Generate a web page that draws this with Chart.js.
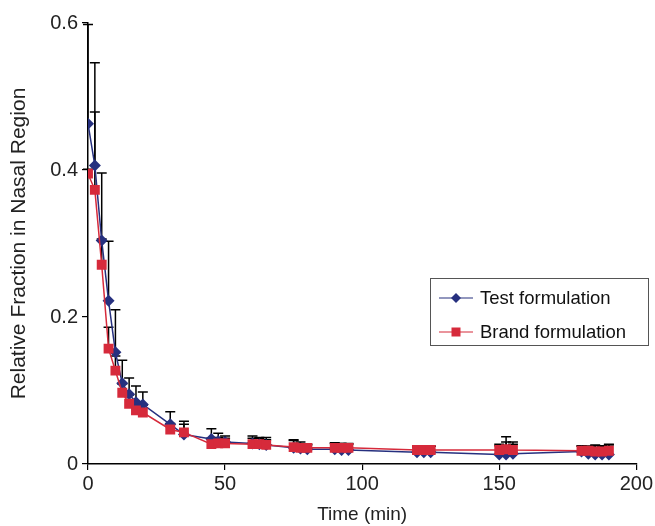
<!DOCTYPE html>
<html>
<head>
<meta charset="utf-8">
<script src="https://cdn.jsdelivr.net/npm/chart.js@4.4.0/dist/chart.umd.min.js"></script>
<style>
  html, body { margin: 0; padding: 0; background: #fff; }
  #wrap { width: 655px; height: 526px; }
</style>
</head>
<body>
<div id="wrap"><canvas id="chart" width="655" height="526"></canvas></div>
<script>
// sampling times (min)
var times = [0, 2.5, 5, 7.5, 10, 12.5, 15, 17.5, 20, 30, 35, 45, 47.5, 50, 60, 62.5, 65,
             75, 77.5, 80, 90, 92.5, 95, 120, 122.5, 125, 150, 152.5, 155, 180, 182.5, 185, 187.5, 190];

// relative fraction in nasal region
var testValues = [0.463, 0.406, 0.304, 0.222, 0.152, 0.110, 0.095, 0.084, 0.081, 0.054, 0.040,
                  0.034, 0.031, 0.030, 0.028, 0.027, 0.026, 0.022, 0.021, 0.020, 0.020, 0.019, 0.019,
                  0.016, 0.016, 0.016, 0.013, 0.013, 0.014, 0.017, 0.014, 0.013, 0.013, 0.013];
var brandValues = [0.395, 0.373, 0.271, 0.157, 0.127, 0.097, 0.082, 0.073, 0.070, 0.047, 0.043,
                   0.027, 0.028, 0.028, 0.027, 0.027, 0.026, 0.023, 0.022, 0.022, 0.022, 0.022, 0.022,
                   0.019, 0.019, 0.019, 0.019, 0.020, 0.019, 0.018, 0.018, 0.017, 0.017, 0.018];

// upper error bars (SD)
var testErr = [0.135, 0.140, 0.092, 0.081, 0.058, 0.031, 0.022, 0.022, 0.017, 0.017, 0.018,
               0.014, 0.011, 0.008, 0.010, 0.009, 0.010, 0.011, 0.006, 0.006, 0.009, 0.009, 0.008,
               0.008, 0.008, 0.008, 0.012, 0.024, 0.016, 0.008, 0.010, 0.013, 0.011, 0.014];
var brandErr = [0.006, 0.106, 0.035, 0.029, 0.020, 0.012, 0.012, 0.010, 0.010, 0.008, 0.011,
                0.008, 0.008, 0.007, 0.008, 0.008, 0.007, 0.009, 0.008, 0.005, 0.006, 0.006, 0.006,
                0.004, 0.004, 0.005, 0.008, 0.010, 0.008, 0.006, 0.006, 0.008, 0.008, 0.008];

var seriesNames = ['Test formulation', 'Brand formulation'];
var xTickLabels = ['0', '50', '100', '150', '200'];
var yTickLabels = ['0', '0.2', '0.4', '0.6'];

var FONT = 'Liberation Sans, Arial, sans-serif';
var BLUE = '#26307f';
var RED = '#d62a3b';

function points(vals) {
  return times.map(function (t, i) { return { x: t, y: vals[i] }; });
}

// draws the upper error bars behind the markers
var errorBars = {
  id: 'errorBars',
  beforeDatasetsDraw: function (chart) {
    var ctx = chart.ctx;
    var xs = chart.scales.x, ys = chart.scales.y;
    var errs = [testErr, brandErr];
    ctx.save();
    ctx.strokeStyle = '#000';
    ctx.lineWidth = 1.5;
    chart.data.datasets.forEach(function (ds, di) {
      ds.data.forEach(function (p, i) {
        var px = xs.getPixelForValue(p.x);
        var py = ys.getPixelForValue(p.y);
        var top = ys.getPixelForValue(p.y + errs[di][i]);
        ctx.beginPath();
        ctx.moveTo(px, py);
        ctx.lineTo(px, top);
        ctx.moveTo(px - 5, top);
        ctx.lineTo(px + 5, top);
        ctx.stroke();
      });
    });
    ctx.restore();
  }
};

// boxed legend inside the plot
var boxLegend = {
  id: 'boxLegend',
  afterDraw: function (chart) {
    var ctx = chart.ctx;
    ctx.save();
    ctx.strokeStyle = '#555';
    ctx.lineWidth = 1;
    ctx.strokeRect(430.5, 278.5, 218, 67);
    ctx.font = '18.5px ' + FONT;
    ctx.textBaseline = 'middle';
    chart.data.datasets.forEach(function (ds, i) {
      var y = 298 + i * 34;
      ctx.strokeStyle = ds.borderColor;
      ctx.lineWidth = 1.2;
      ctx.beginPath();
      ctx.moveTo(439, y);
      ctx.lineTo(473, y);
      ctx.stroke();
      ctx.fillStyle = ds.backgroundColor;
      ctx.beginPath();
      if (i === 0) {
        ctx.moveTo(456 - 5, y); ctx.lineTo(456, y - 5); ctx.lineTo(456 + 5, y); ctx.lineTo(456, y + 5);
        ctx.closePath();
      } else {
        ctx.rect(456 - 4.5, y - 4.5, 9, 9);
      }
      ctx.fill();
      ctx.fillStyle = '#111';
      ctx.fillText(ds.label, 480, y + 1);
    });
    ctx.restore();
  }
};

new Chart(document.getElementById('chart'), {
  type: 'line',
  data: {
    datasets: [{
      label: seriesNames[0],
      data: points(testValues),
      borderColor: BLUE,
      backgroundColor: BLUE,
      borderWidth: 1.5,
      pointStyle: 'rectRot',
      pointRadius: 6,
      pointBorderWidth: 0,
      tension: 0,
      order: 1
    }, {
      label: seriesNames[1],
      data: points(brandValues),
      borderColor: RED,
      backgroundColor: RED,
      borderWidth: 1.5,
      pointStyle: 'rect',
      pointRadius: 7,
      pointBorderWidth: 0,
      tension: 0,
      order: 0
    }]
  },
  options: {
    responsive: false,
    animation: false,
    layout: { padding: { left: 0, right: 17, top: 23, bottom: 0 } },
    plugins: { legend: { display: false }, tooltip: { enabled: false } },
    scales: {
      x: {
        type: 'linear',
        min: 0, max: 200,
        afterFit: function (s) { s.height = 62; },
        afterBuildTicks: function (s) {
          s.ticks = xTickLabels.map(function (t) { return { value: Number(t) }; });
        },
        ticks: {
          font: { family: FONT, size: 20 }, color: '#222', padding: 2,
          callback: function (v, i) { return xTickLabels[i]; }
        },
        grid: { drawOnChartArea: false, drawTicks: true, tickLength: 6, color: '#000', lineWidth: 1.2 },
        border: { color: '#000', width: 1.5 },
        title: { display: true, text: 'Time (min)', font: { family: FONT, size: 19 }, color: '#222', padding: { top: 0, bottom: 0 } }
      },
      y: {
        min: 0, max: 0.6,
        afterFit: function (s) { s.width = 88; },
        afterBuildTicks: function (s) {
          s.ticks = yTickLabels.map(function (t) { return { value: Number(t) }; });
        },
        ticks: {
          font: { family: FONT, size: 20 }, color: '#222', padding: 4,
          callback: function (v, i) { return yTickLabels[i]; }
        },
        grid: { drawOnChartArea: false, drawTicks: true, tickLength: 6, color: '#000', lineWidth: 1.2 },
        border: { color: '#000', width: 1.5 },
        title: { display: true, text: 'Relative Fraction in Nasal Region', font: { family: FONT, size: 21 }, color: '#222', padding: { top: 7, bottom: 0 } }
      }
    }
  },
  plugins: [errorBars, boxLegend]
});
</script>
</body>
</html>
